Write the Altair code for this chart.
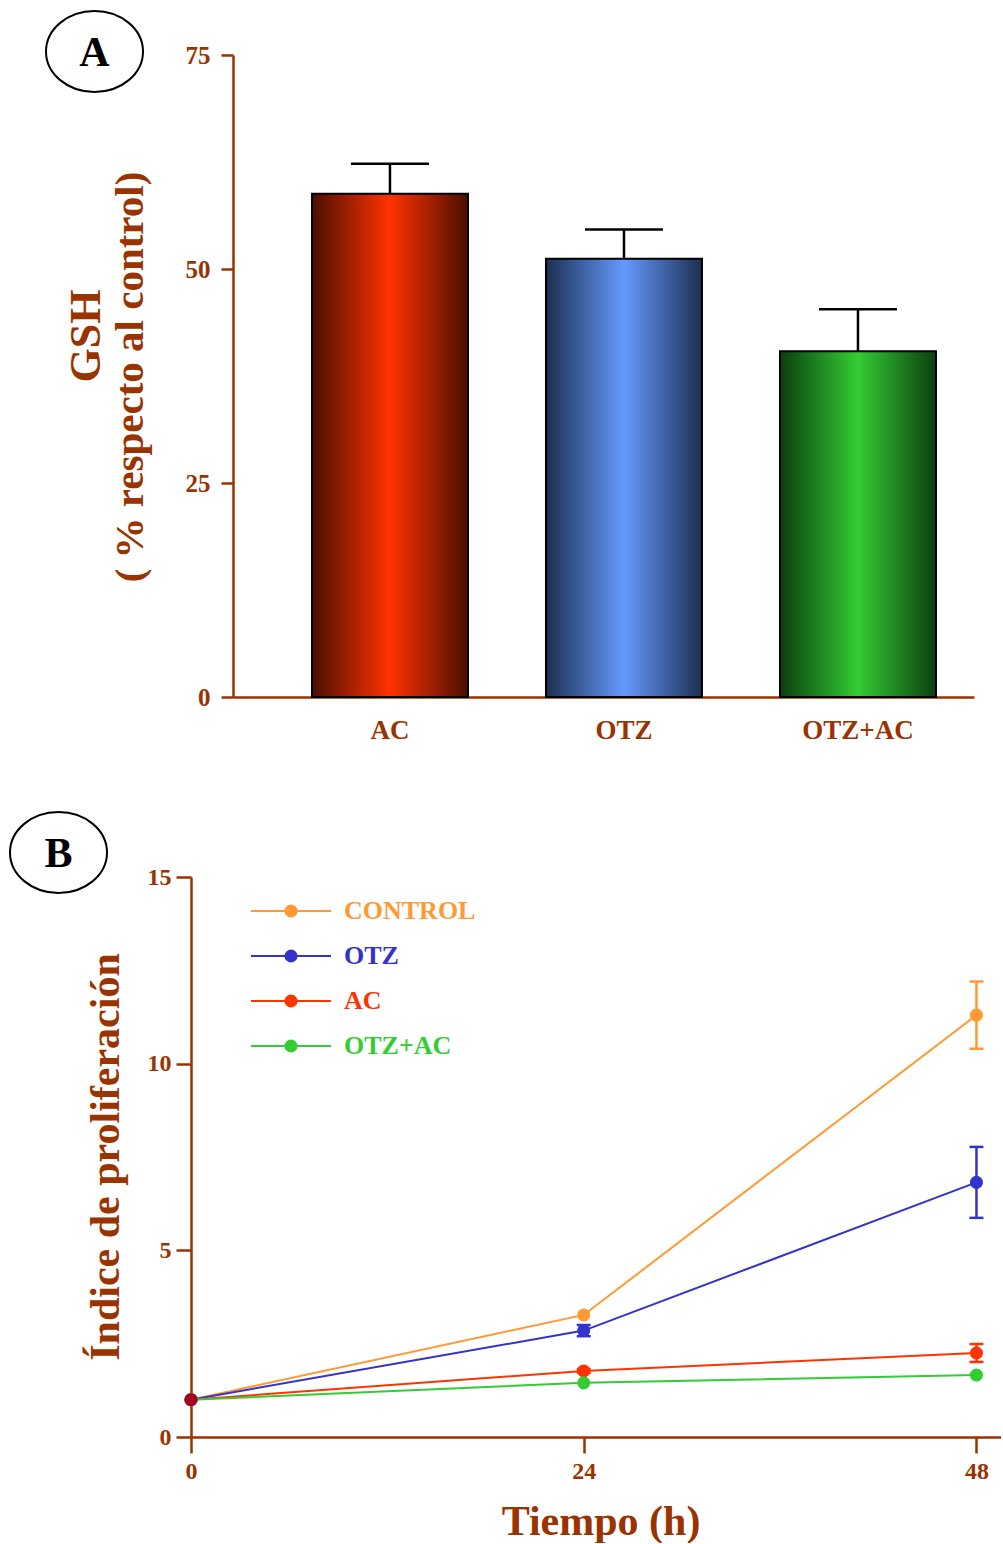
import altair as alt
import pandas as pd

MARRON = "#993300"
FUENTE = "Liberation Serif"

# ---------------- Panel A: GSH (% respecto al control) ----------------
grupos = ["AC", "OTZ", "OTZ+AC"]
gsh_media = [58.8, 51.2, 40.4]
gsh_error = [3.5, 3.4, 4.9]
color_borde = ["#4a0e00", "#1c2f52", "#0b3f0f"]
color_centro = ["#ff3300", "#6699ff", "#33cc33"]
gsh_ticks = [0, 25, 50, 75]

# ---------------- Panel B: índice de proliferación ----------------
tiempos = [0, 24, 48]
series = ["CONTROL", "OTZ", "AC", "OTZ+AC"]
colores = ["#ff9933", "#3333cc", "#ff3300", "#33cc33"]
control = [1.0, 3.27, 11.30]
otz = [1.0, 2.85, 6.82]
ac = [1.0, 1.77, 2.25]
otz_ac = [1.0, 1.45, 1.66]
control_err = [0.0, 0.0, 0.90]
otz_err = [0.0, 0.15, 0.95]
ac_err = [0.0, 0.05, 0.24]
otz_ac_err = [0.0, 0.0, 0.0]
prolif_ticks = [0, 5, 10, 15]
color_origen = "#a50021"

# elliptical frame for the panel letters: unit path built from cubic curves,
# scaled by the symbol size
ELIPSE = (
    "M -1 0 C -1 -0.4612 -0.5523 -0.835 0 -0.835 "
    "C 0.5523 -0.835 1 -0.4612 1 0 "
    "C 1 0.4612 0.5523 0.835 0 0.835 "
    "C -0.5523 0.835 -1 0.4612 -1 0 Z"
)

# both panels share the same plot origin; panel A's axes sit further right
DESPLAZ_A = 42


def texto(etiqueta, x, y, size, color=MARRON, angle=0, align="center"):
    return alt.Chart(pd.DataFrame({"t": [etiqueta]})).mark_text(
        font=FUENTE, fontSize=size, fontWeight="bold", color=color,
        angle=angle, align=align, baseline="middle",
    ).encode(text="t:N", x=alt.value(x), y=alt.value(y))


def elipse(x, y):
    return alt.Chart(pd.DataFrame({"t": [0]})).mark_point(
        shape=ELIPSE, size=9409, filled=False, stroke="black",
        strokeWidth=2, opacity=1,
    ).encode(x=alt.value(x), y=alt.value(y))


def ancla(x, y):
    # invisible point that fixes the outer edge of the panel
    return alt.Chart(pd.DataFrame({"t": [0]})).mark_point(
        filled=True, size=1, opacity=0,
    ).encode(x=alt.value(x), y=alt.value(y))


# ---------- Panel A ----------
df_a = pd.DataFrame({
    "grupo": grupos,
    "media": gsh_media,
    "error": gsh_error,
})
df_a["sup"] = df_a["media"] + df_a["error"]

x_a = alt.X(
    "grupo:N",
    scale=alt.Scale(domain=grupos, range=[DESPLAZ_A, DESPLAZ_A + 741],
                    paddingInner=1 / 3, paddingOuter=0.25, align=0.675),
    axis=alt.Axis(ticks=False, labelAngle=0, labelPadding=20, labelFontSize=27, title=None),
)
eje_y_a = alt.Axis(values=gsh_ticks, tickSize=12, labelPadding=11, labelFontSize=25,
                   title=None, offset=-DESPLAZ_A)
escala_y_a = alt.Scale(domain=[0, 75], nice=False)

capas_a = []
capas_a.append(
    alt.Chart(df_a).mark_rule(color="black", strokeWidth=2.5, opacity=1).encode(
        x=x_a, y=alt.Y("media:Q", scale=escala_y_a, axis=eje_y_a), y2="sup:Q"
    )
)
capas_a.append(
    alt.Chart(df_a).mark_tick(color="black", thickness=2.5, size=78, orient="horizontal", opacity=1).encode(
        x=x_a, y=alt.Y("sup:Q", scale=escala_y_a, axis=eje_y_a)
    )
)
for g, borde, centro in zip(grupos, color_borde, color_centro):
    relleno = alt.LinearGradient(
        gradient="linear", x1=0, x2=1, y1=0, y2=0,
        stops=[
            alt.GradientStop(offset=0, color=borde),
            alt.GradientStop(offset=0.5, color=centro),
            alt.GradientStop(offset=1, color=borde),
        ],
    )
    capas_a.append(
        alt.Chart(df_a).transform_filter(alt.datum.grupo == g).mark_bar(
            fill=relleno, stroke="black", strokeWidth=2
        ).encode(x=x_a, y=alt.Y("media:Q", scale=escala_y_a, axis=eje_y_a))
    )

capas_a += [
    elipse(-96.5, -3.5),
    texto("A", -96.5, -2, 42, color="black"),
    texto("GSH", -104, 281, 44, angle=270),
    texto("( % respecto al control)", -60, 322, 41, angle=270),
    ancla(-190, -54),
    ancla(0, 706),
]

panel_a = alt.layer(*capas_a).properties(width=DESPLAZ_A + 741, height=642)

# ---------- Panel B ----------
valores = {"CONTROL": control, "OTZ": otz, "AC": ac, "OTZ+AC": otz_ac}
errores = {"CONTROL": control_err, "OTZ": otz_err, "AC": ac_err, "OTZ+AC": otz_ac_err}
filas = []
for s in series:
    for t, v, e in zip(tiempos, valores[s], errores[s]):
        filas.append({"serie": s, "tiempo": t, "valor": v, "error": e,
                      "lo": v - e, "hi": v + e})
df_b = pd.DataFrame(filas)
df_err = df_b[df_b["error"] > 0]
df_origen = df_b[(df_b["tiempo"] == tiempos[0]) & (df_b["serie"] == series[0])]

x_b = alt.X(
    "tiempo:Q",
    scale=alt.Scale(domain=[0, 49.5], nice=False, zero=False),
    axis=alt.Axis(values=tiempos, tickSize=16, labelPadding=6, labelFontSize=24,
                  labelFlush=False, title=None),
)
eje_y_b = alt.Axis(values=prolif_ticks, tickSize=15, labelPadding=5, labelFontSize=24, title=None)
escala_y_b = alt.Scale(domain=[0, 15], nice=False)


def y_b(campo):
    return alt.Y(campo, scale=escala_y_b, axis=eje_y_b)


color_b = alt.Color("serie:N", scale=alt.Scale(domain=series, range=colores), legend=None)

datos_b = alt.layer(
    alt.Chart(df_b).mark_line(strokeWidth=2).encode(x=x_b, y=y_b("valor:Q"), color=color_b, detail="serie:N"),
    alt.Chart(df_err).mark_rule(strokeWidth=2.5, opacity=1).encode(x=x_b, y=y_b("lo:Q"), y2="hi:Q", color=color_b),
    alt.Chart(df_err).mark_tick(thickness=2.5, size=14, orient="horizontal", opacity=1).encode(x=x_b, y=y_b("lo:Q"), color=color_b),
    alt.Chart(df_err).mark_tick(thickness=2.5, size=14, orient="horizontal", opacity=1).encode(x=x_b, y=y_b("hi:Q"), color=color_b),
    alt.Chart(df_b).mark_point(filled=True, size=170, opacity=1).encode(x=x_b, y=y_b("valor:Q"), color=color_b),
    alt.Chart(df_origen).mark_point(filled=True, size=170, opacity=1, color=color_origen).encode(x=x_b, y=y_b("valor:Q")),
    elipse(-132.5, -24.5),
    texto("B", -132.5, -23, 42, color="black"),
    texto("Índice de proliferación", -85, 280, 42, angle=270),
    texto("Tiempo (h)", 410, 645, 42),
    ancla(-190, -78),
)

df_ley = pd.DataFrame({"serie": series})
y_ley = alt.Y("serie:N", scale=alt.Scale(type="point", domain=series, range=[34, 169], padding=0), axis=None)
leyenda_b = alt.layer(
    alt.Chart(df_ley).mark_rule(strokeWidth=2).encode(
        x=alt.value(60), x2=alt.value(140), y=y_ley, color=color_b),
    alt.Chart(df_ley).mark_point(filled=True, size=170, opacity=1).encode(
        x=alt.value(100), y=y_ley, color=color_b),
    alt.Chart(df_ley).mark_text(font=FUENTE, fontSize=26, fontWeight="bold", align="left", baseline="middle").encode(
        x=alt.value(153), y=y_ley, text="serie:N", color=color_b),
)

panel_b = alt.layer(datos_b, leyenda_b).resolve_scale(y="independent").properties(width=810, height=560)

chart = alt.vconcat(panel_a, panel_b, spacing=36).properties(
    padding=0
).configure_view(stroke=None).configure_axis(
    labelFont=FUENTE, labelFontWeight="bold", labelColor=MARRON,
    domainColor=MARRON, tickColor=MARRON, domainWidth=2.5, tickWidth=2.5, grid=False,
)

chart.save("out.html", embed_options={"renderer": "svg", "actions": False})
